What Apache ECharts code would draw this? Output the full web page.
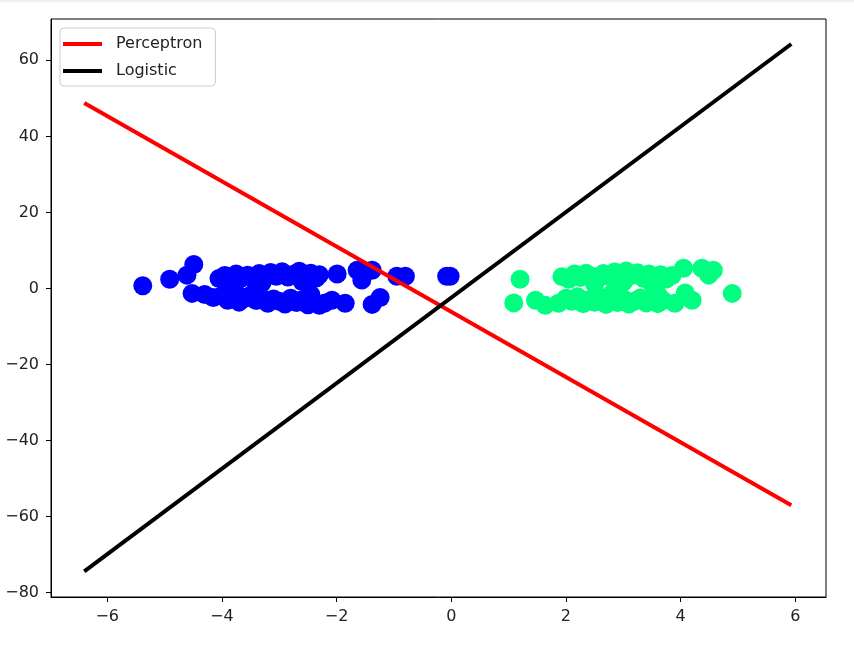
<!DOCTYPE html>
<html>
<head>
<meta charset="utf-8">
<script src="https://cdn.jsdelivr.net/npm/echarts@6/dist/echarts.min.js"></script>
<style>
html,body{margin:0;padding:0;background:#fff;}
#c{width:854px;height:656px;}
</style>
</head>
<body>
<div id="c"></div>
<script>
// Class 0 (blue) points [x, y]
const bluePoints = [
  [-5.38,0.7],[-4.91,2.4],[-4.49,6.3],[-4.61,3.5],[-4.52,-1.3],
  [-4.05,2.6],[-3.95,3.4],[-3.85,2.0],[-3.75,3.8],[-3.65,2.8],[-3.55,3.5],[-3.45,2.4],
  [-3.35,3.9],[-3.25,2.9],[-3.15,4.2],[-3.05,3.2],[-2.95,4.4],[-2.85,3.0],[-2.75,3.7],
  [-2.65,4.5],[-2.55,3.3],[-2.45,4.0],[-2.35,2.8],[-2.3,3.6],[-3.9,1.2],[-3.3,1.5],[-2.6,1.8],
  [-4.3,-1.6],[-4.15,-2.4],[-4.0,-1.9],[-3.9,-3.1],[-3.8,-2.3],[-3.7,-3.6],[-3.6,-2.6],
  [-3.5,-1.8],[-3.4,-3.2],[-3.3,-2.5],[-3.2,-3.9],[-3.1,-2.8],[-3.0,-3.4],[-2.9,-4.1],
  [-2.8,-2.6],[-2.7,-3.7],[-2.6,-3.0],[-2.5,-4.3],[-2.4,-3.5],[-2.3,-4.4],[-2.2,-3.8],
  [-2.08,-3.1],[-1.85,-3.9],[-1.38,-4.2],[-1.24,-2.4],[-3.75,-1.2],[-2.45,-1.6],
  [-1.99,3.8],[-1.64,4.8],[-1.38,4.8],[-1.56,2.2],[-0.95,3.2],[-0.8,3.2],[-0.08,3.2],[-0.02,3.2]
];
// Class 1 (green) points [x, y]
const greenPoints = [
  [1.2,2.4],[1.93,3.1],[2.05,2.4],[2.15,3.8],[2.25,2.9],[2.35,4.0],[2.45,3.2],[2.55,2.6],
  [2.65,3.9],[2.75,3.1],[2.85,4.3],[2.95,2.8],[3.05,4.6],[3.15,3.4],[3.25,4.1],[3.35,2.7],
  [3.45,3.8],[3.55,3.0],[3.65,3.6],[3.75,2.5],[3.85,3.4],[4.05,5.3],[4.37,5.3],[4.49,3.5],[4.57,4.8],
  [2.5,1.2],[3.0,1.6],[3.5,1.3],
  [1.09,-3.8],[1.47,-3.1],[1.64,-4.4],[1.87,-3.9],[2.0,-2.6],[2.1,-3.4],[2.2,-2.2],[2.3,-4.0],
  [2.4,-3.0],[2.5,-3.6],[2.6,-2.4],[2.7,-4.2],[2.8,-3.1],[2.9,-3.7],[3.0,-2.7],[3.1,-4.1],
  [3.2,-3.3],[3.3,-2.5],[3.4,-3.8],[3.5,-2.9],[3.6,-4.0],[3.7,-3.2],[3.9,-3.9],[4.08,-1.2],
  [4.2,-3.1],[4.90,-1.3],[2.8,-1.4],[3.6,-1.6]
];
// Decision boundary lines [x, y]
const perceptronLine = [[-6.40,48.8],[5.93,-57.0]];
const logisticLine = [[-6.40,-74.4],[5.93,64.3]];
// Tick values
const xTicks = [-6,-4,-2,0,2,4,6];
const yTicks = [-80,-60,-40,-20,0,20,40,60];

const fmt = v => String(v).replace('-', '\u2212');
const chart = echarts.init(document.getElementById('c'), null, {renderer:'canvas'});
const FONT = 'DejaVu Sans';
chart.setOption({
  animation:false,
  backgroundColor:'#fff',
  textStyle:{fontFamily:FONT},
  graphic:[{type:'line', shape:{x1:0,y1:1,x2:854,y2:1}, style:{stroke:'#e0e0e0', lineWidth:1}, silent:true}],
  grid:{left:51, top:19, right:28, bottom:59, show:true, borderColor:'#000', borderWidth:1, backgroundColor:'transparent'},
  xAxis:{
    type:'value', min:-6.98, max:6.535,
    axisLine:{show:true, onZero:false, lineStyle:{color:'#000', width:1}},
    axisTick:{show:true, length:5, lineStyle:{color:'#000'}, customValues:xTicks},
    axisLabel:{color:'#222', fontSize:16, fontFamily:FONT, margin:12, customValues:xTicks, formatter:fmt},
    splitLine:{show:false}
  },
  yAxis:{
    type:'value', min:-81.16, max:70.87,
    axisLine:{show:true, onZero:false, lineStyle:{color:'#000', width:1}},
    axisTick:{show:true, length:5, lineStyle:{color:'#000'}, customValues:yTicks},
    axisLabel:{color:'#222', fontSize:16, fontFamily:FONT, margin:12, customValues:yTicks, formatter:fmt},
    splitLine:{show:false}
  },
  legend:{
    data:['Perceptron','Logistic'],
    orient:'vertical', left:60, top:28,
    icon:'rect', itemWidth:39, itemHeight:4, itemGap:9,
    padding:[7,13,6,3],
    borderColor:'#cccccc', borderWidth:1, borderRadius:4,
    backgroundColor:'rgba(255,255,255,0.8)',
    textStyle:{fontSize:16, fontFamily:FONT, color:'#222', lineHeight:18, padding:[0,0,0,9]}
  },
  series:[
    {name:'class0', type:'scatter', data:bluePoints, symbolSize:19, itemStyle:{color:'#0000ff', opacity:1}, z:2},
    {name:'class1', type:'scatter', data:greenPoints, symbolSize:19, itemStyle:{color:'#00ff80', opacity:1}, z:2},
    {name:'Perceptron', type:'line', data:perceptronLine, symbol:'none', lineStyle:{color:'#ff0000', width:4}, itemStyle:{color:'#ff0000'}, z:3},
    {name:'Logistic', type:'line', data:logisticLine, symbol:'none', lineStyle:{color:'#000000', width:4}, itemStyle:{color:'#000000'}, z:3}
  ]
});
</script>
</body>
</html>
